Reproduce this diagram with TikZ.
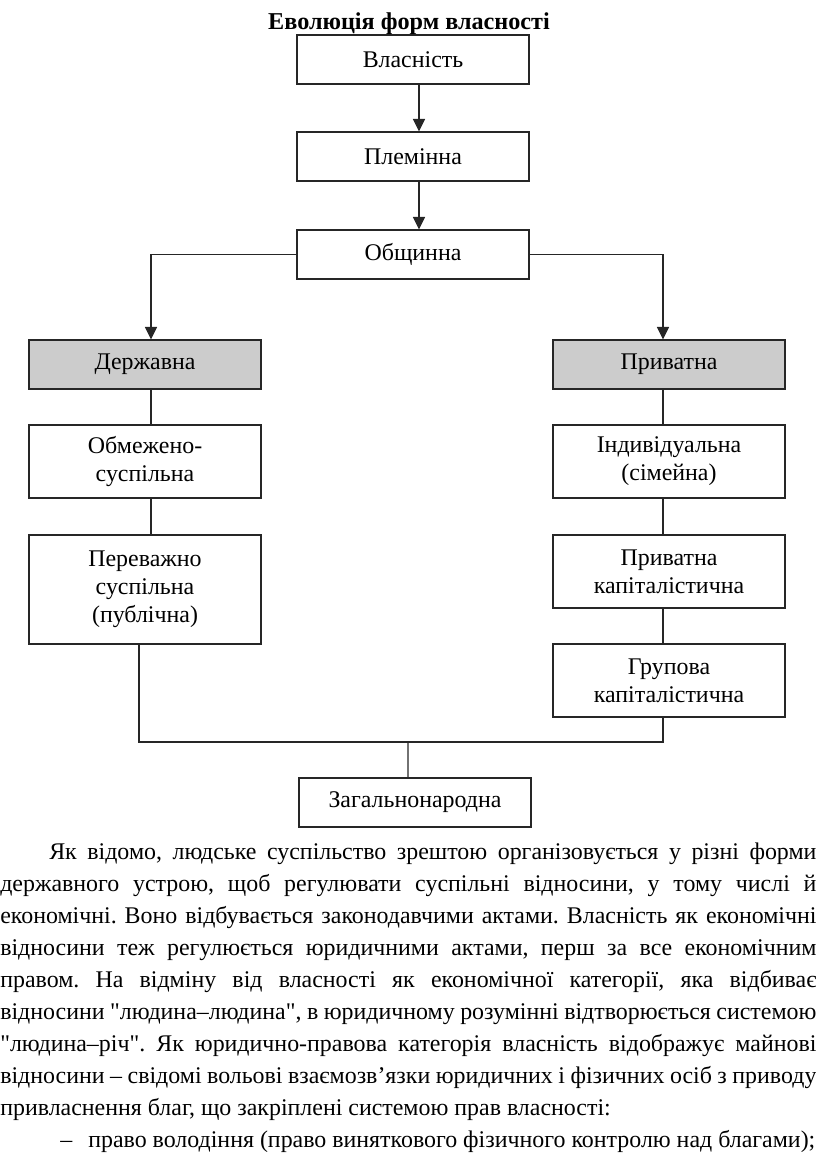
\documentclass[tikz,border=0pt]{standalone}
\usepackage{fontspec}
\setmainfont{Liberation Serif}[Ligatures=TeXOff]
\usetikzlibrary{arrows.meta}

\begin{document}
\begin{tikzpicture}[x=0.025cm, y=-0.025cm,
    box/.style={draw=black!85, line width=0.9pt, minimum width=5.8cm,
        minimum height=1.225cm, inner sep=0pt, align=center,
        font=\fontsize{17}{19.9}\selectfont},
    box2/.style={box, minimum height=1.825cm},
    box3/.style={box, minimum height=2.725cm},
    kind/.style={box, fill=black!20},
    link/.style={draw=black!85, line width=0.8pt},
    arr/.style={link, -{Triangle[length=3.1mm, width=3mm]}}]
    \useasboundingbox (0,0) rectangle (816,1167);

    % title
    \node (title) [anchor=base, font=\bfseries\fontsize{17.2}{18}\selectfont] at (409,29) {Еволюція форм власності};

    % main chain
    \node (vl) [box] at (413,59.5) {Власність};
    \node (pl) [box] at (413,156.5) {Племінна};
    \node (ob) [box] at (413,254.5) {Общинна};

    % two branches
    \node (dz) [kind] at (145,364.5) {Державна};
    \node (pr) [kind] at (669,364.5) {Приватна};
    \node (om) [box2] at (145,461.5) {Обмежено-\\суспільна};
    \node (pv) [box3] at (145,589.5) {Переважно\\суспільна\\(публічна)};
    \node (iv) [box2] at (669,461.5) {Індивідуальна\\(сімейна)};
    \node (pk) [box2] at (669,571.5) {Приватна\\капіталістична};
    \node (gk) [box2] at (669,680.5) {Групова\\капіталістична};
    \node (zg) [box] at (415,802.5) {Загальнонародна};
    \coordinate (jn) at (408,742);

    \draw[arr] ([xshift=0.15cm]vl.south) -- ([xshift=0.15cm]pl.north);
    \draw[arr] ([xshift=0.15cm]pl.south) -- ([xshift=0.15cm]ob.north);
    \draw[arr] (ob.west) -| ([xshift=0.15cm]dz.north);
    \draw[arr] (ob.east) -| ([xshift=-0.15cm]pr.north);
    \draw[link] ([xshift=0.15cm]dz.south) -- ([xshift=0.15cm]om.north);
    \draw[link] ([xshift=0.15cm]om.south) -- ([xshift=0.15cm]pv.north);
    \draw[link] ([xshift=-0.15cm]pr.south) -- ([xshift=-0.15cm]iv.north);
    \draw[link] ([xshift=-0.15cm]iv.south) -- ([xshift=-0.15cm]pk.north);
    \draw[link] ([xshift=-0.15cm]pk.south) -- ([xshift=-0.15cm]gk.north);
    \draw[link] ([xshift=-0.15cm]pv.south) |- (jn) -| ([xshift=-0.15cm]gk.south);
    \draw[link] (jn) -- ([xshift=-0.175cm]zg.north);

    % text under the scheme
    \node (txt) [anchor=base west, inner sep=0pt, text width=20.4cm, align=justify,
        font=\fontsize{17}{22.76}\selectfont] at (0,859) {\frenchspacing\tolerance=10000\hyphenpenalty=10000\exhyphenpenalty=10000%
        \hspace*{1.225cm}Як відомо, людське суспільство зрештою організовується у різні форми\linebreak
        державного устрою, щоб регулювати суспільні відносини, у тому числі й\linebreak
        економічні. Воно відбувається законодавчими актами. Власність як економічні\linebreak
        відносини теж регулюється юридичними актами, перш за все економічним\linebreak
        правом. На відміну від власності як економічної категорії, яка відбиває\linebreak
        відносини "людина–людина", в юридичному розумінні відтворюється системою\linebreak
        "людина–річ". Як юридично-правова категорія власність відображує майнові\linebreak
        відносини – свідомі вольові взаємозв’язки юридичних і фізичних осіб з приводу\linebreak
        привласнення благ, що закріплені системою прав власності:\par
        \noindent\hspace*{1.5cm}\makebox[0.7cm][l]{–}\mbox{право володіння (право виняткового фізичного контролю над благами);}};
\end{tikzpicture}
\end{document}
